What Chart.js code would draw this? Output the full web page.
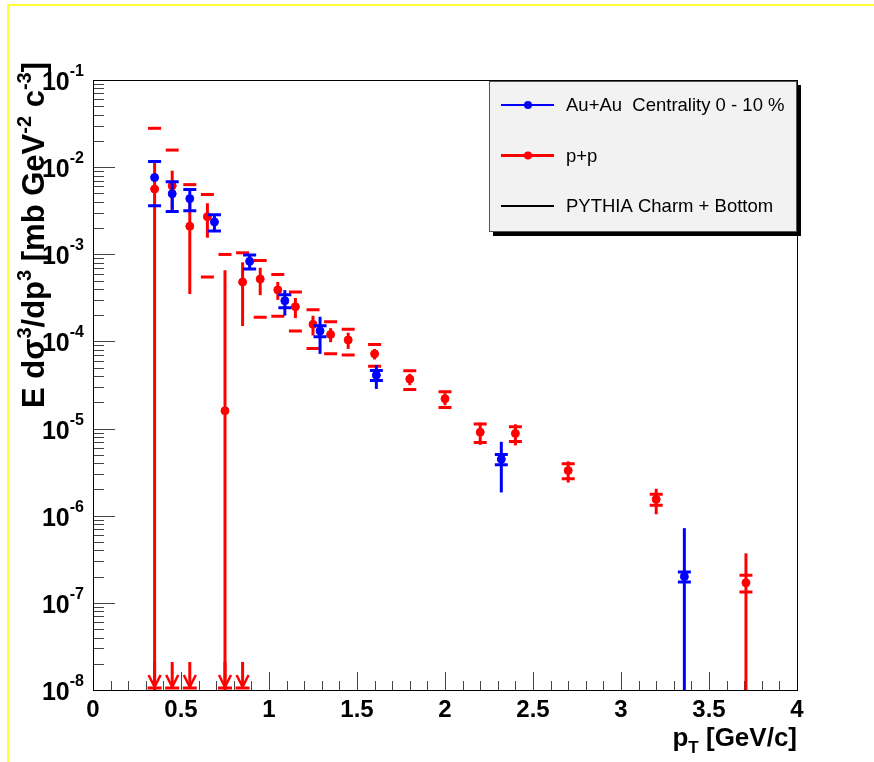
<!DOCTYPE html>
<html>
<head>
<meta charset="utf-8">
<title>Non-photonic electron spectra</title>
<script src="https://cdn.jsdelivr.net/npm/chart.js@4.4.1/dist/chart.umd.min.js"></script>
<style>
  html, body { margin: 0; padding: 0; background: #fff; }
  canvas { display: block; }
</style>
</head>
<body>
<canvas id="spectrum" width="874" height="762"></canvas>
<script>
// Au+Au, centrality 0-10 %
const auPt    = [0.35, 0.45, 0.55, 0.69, 0.89, 1.09, 1.29, 1.61, 2.32, 3.36];
const auYield = [7.6e-3, 4.95e-3, 4.35e-3, 2.35e-3, 8.3e-4, 2.93e-4, 1.32e-4, 4.1e-5, 4.45e-6, 2.0e-7];
const auStat  = [0.3e-3, 1.7e-3, 1.1e-3, 0.45e-3, 1.4e-4, 0.95e-4, 0.6e-4, 1.25e-5, 2.6e-6, 5.2e-7];
const auSyst  = [4.0e-3, 1.85e-3, 1.2e-3, 0.5e-3, 1.5e-4, 0.5e-4, 0.19e-4, 0.55e-5, 0.6e-6, 0.26e-7];

// p+p reference
const ppPt    = [0.35, 0.45, 0.55, 0.65, 0.75, 0.85, 0.95, 1.05, 1.15, 1.25, 1.35, 1.45, 1.6, 1.8, 2.0, 2.2, 2.4, 2.7, 3.2, 3.71];
const ppYield = [5.6e-3, 6.1e-3, 2.1e-3, 2.7e-3, 1.6e-5, 4.8e-4, 5.2e-4, 3.9e-4, 2.5e-4, 1.57e-4, 1.2e-4, 1.04e-4, 7.2e-5, 3.7e-5, 2.2e-5, 9.1e-6, 8.8e-6, 3.3e-6, 1.54e-6, 1.7e-7];
const ppStat  = [5.9e-3, 3.0e-3, 1.75e-3, 1.15e-3, 6.4e-4, 3.3e-4, 1.8e-4, 0.9e-4, 0.65e-4, 0.4e-4, 0.22e-4, 0.22e-4, 1.0e-5, 0.55e-5, 0.35e-5, 2.6e-6, 2.4e-6, 0.9e-6, 0.5e-6, 2.0e-7];
const ppSyst  = [2.23e-2, 9.6e-3, 4.2e-3, 2.15e-3, 9.8e-4, 5.6e-4, 3.3e-4, 1.95e-4, 1.18e-4, 0.74e-4, 0.48e-4, 0.34e-4, 0.2e-4, 0.9e-5, 0.45e-5, 2.2e-6, 1.7e-6, 0.65e-6, 0.22e-6, 0.37e-7];

// axis ticks
const xTicks = [0, 0.5, 1, 1.5, 2, 2.5, 3, 3.5, 4];
const xTickLabels = ["0", "0.5", "1", "1.5", "2", "2.5", "3", "3.5", "4"];
const yExponents = [-1, -2, -3, -4, -5, -6, -7, -8];

const BOLD = "bold {s}px 'Liberation Sans', Arial, sans-serif";
const font = s => BOLD.replace("{s}", s);

const toPoints = (xs, ys) => xs.map((x, i) => ({ x: x, y: ys[i] }));

// draws pieces [text, shift, size] one after another from x along baseline y
function drawPieces(ctx, pieces, x, y) {
  pieces.forEach(([t, shift, size]) => {
    ctx.font = font(size);
    ctx.fillText(t, x, y + shift);
    x += ctx.measureText(t).width;
  });
}
function piecesWidth(ctx, pieces) {
  return pieces.reduce((w, [t, , size]) => { ctx.font = font(size); return w + ctx.measureText(t).width; }, 0);
}

const pageFrame = {
  id: "pageFrame",
  beforeDraw(chart) {
    const ctx = chart.ctx;
    ctx.save();
    ctx.fillStyle = "#fff";
    ctx.fillRect(0, 0, chart.width, chart.height);
    ctx.strokeStyle = "#ffff33";
    ctx.lineWidth = 2;
    ctx.beginPath();
    ctx.moveTo(7, 5); ctx.lineTo(chart.width, 5);
    ctx.moveTo(8, 4); ctx.lineTo(8, chart.height);
    ctx.stroke();
    ctx.restore();
  }
};

// frame, inward ticks and tick labels
const rootAxes = {
  id: "rootAxes",
  beforeDatasetsDraw(chart) {
    const { ctx, chartArea: a, scales: { x, y } } = chart;
    ctx.save();
    ctx.strokeStyle = "#444";
    ctx.lineWidth = 1;
    ctx.beginPath();
    for (let i = 0; i <= 40; i++) {
      const px = Math.round(x.getPixelForValue(i / 10)) + 0.5;
      const len = i % 5 === 0 ? 18 : 9;
      ctx.moveTo(px, a.bottom); ctx.lineTo(px, a.bottom - len);
    }
    for (let e = -8; e < -1; e++) {
      for (let k = 1; k <= 9; k++) {
        const py = Math.round(y.getPixelForValue(k * Math.pow(10, e))) + 0.5;
        const len = k === 1 ? 22 : 11;
        ctx.moveTo(a.left, py); ctx.lineTo(a.left + len, py);
      }
    }
    ctx.stroke();
    ctx.strokeStyle = "#000";
    ctx.strokeRect(a.left + 0.5, a.top + 0.5, a.right - a.left, a.bottom - a.top);
    ctx.restore();
  },
  afterDraw(chart) {
    const { ctx, chartArea: a, scales: { x, y } } = chart;
    ctx.save();
    ctx.fillStyle = "#000";
    ctx.textBaseline = "alphabetic";
    ctx.font = font(24);
    ctx.textAlign = "center";
    xTicks.forEach((v, i) => ctx.fillText(xTickLabels[i], x.getPixelForValue(v), a.bottom + 27));
    ctx.textAlign = "left";
    yExponents.forEach(e => {
      const py = y.getPixelForValue(Math.pow(10, e));
      const pieces = [["10", 0, 25], [String(e), -14, 16]];
      drawPieces(ctx, pieces, 84 - piecesWidth(ctx, pieces), py + 10);
    });
    // x title
    const xt = [["p", 0, 26], ["T", 7, 17], [" [GeV/c]", 0, 26]];
    drawPieces(ctx, xt, a.right - piecesWidth(ctx, xt), a.bottom + 56);
    // y title, rotated, ending near the top of the axis
    const yt = [["E d\u03c3", 0, 31], ["3", -13, 20], ["/dp", 0, 31], ["3", -13, 20],
                [" [mb GeV", 0, 31], ["-2", -13, 20], [" c", 0, 31], ["-3", -13, 20], ["]", 0, 31]];
    ctx.translate(44, 62);
    ctx.rotate(-Math.PI / 2);
    drawPieces(ctx, yt, -piecesWidth(ctx, yt), 0);
    ctx.restore();
  }
};

// vertical stat lines and horizontal syst dashes, arrows where syst reaches zero
const errorBars = {
  id: "errorBars",
  beforeDatasetDraw(chart, args) {
    const ds = chart.data.datasets[args.index];
    if (!ds.stat) return;
    const { ctx, chartArea: a, scales: { x, y } } = chart;
    const py = v => (v > 0 ? Math.min(y.getPixelForValue(v), a.bottom) : a.bottom);
    ctx.save();
    ctx.strokeStyle = ds.borderColor;
    ctx.lineCap = "butt";
    ds.data.forEach((p, i) => {
      const px = x.getPixelForValue(p.x);
      ctx.lineWidth = 3;
      ctx.beginPath();
      ctx.moveTo(px, py(p.y + ds.stat[i]));
      ctx.lineTo(px, py(p.y - ds.stat[i]));
      ctx.stroke();
      const up = py(p.y + ds.syst[i]);
      ctx.beginPath();
      ctx.moveTo(px - 6.5, up); ctx.lineTo(px + 6.5, up);
      if (p.y - ds.syst[i] > 0) {
        const lo = py(p.y - ds.syst[i]);
        ctx.moveTo(px - 6.5, lo); ctx.lineTo(px + 6.5, lo);
        ctx.stroke();
      } else {
        ctx.stroke();
        const b = a.bottom - 2;
        ctx.lineWidth = 3;
        ctx.beginPath();
        ctx.moveTo(px, b - 26); ctx.lineTo(px, b);
        ctx.moveTo(px - 7, b); ctx.lineTo(px + 7, b);
        ctx.stroke();
        ctx.lineWidth = 2.5;
        ctx.beginPath();
        ctx.moveTo(px - 6, b - 13); ctx.lineTo(px, b - 1); ctx.lineTo(px + 6, b - 13);
        ctx.stroke();
      }
    });
    ctx.restore();
  }
};

const boxLegend = {
  id: "boxLegend",
  afterDraw(chart) {
    const ctx = chart.ctx;
    const bx = 489, by = 81, bw = 308, bh = 151;
    ctx.save();
    ctx.fillStyle = "#000";
    ctx.fillRect(bx + 4, by + 4, bw, bh);
    ctx.fillStyle = "#f2f2f2";
    ctx.fillRect(bx, by, bw, bh);
    ctx.strokeStyle = "#555";
    ctx.lineWidth = 1;
    ctx.strokeRect(bx + 0.5, by + 0.5, bw - 1, bh - 1);
    chart.data.datasets.forEach((ds, i) => {
      const ly = 105 + i * 50.5;
      ctx.strokeStyle = ds.borderColor;
      ctx.lineWidth = ds.legendWidth;
      ctx.beginPath();
      ctx.moveTo(501, ly); ctx.lineTo(554, ly);
      ctx.stroke();
      if (ds.data.length) {
        ctx.fillStyle = ds.backgroundColor;
        ctx.beginPath();
        ctx.arc(528, ly, 4, 0, Math.PI * 2);
        ctx.fill();
      }
      ctx.fillStyle = "#000";
      ctx.font = "18.5px 'Liberation Sans', Arial, sans-serif";
      ctx.textBaseline = "middle";
      ctx.fillText(ds.label, 566, ly + 1);
    });
    ctx.restore();
  }
};

new Chart(document.getElementById("spectrum"), {
  type: "scatter",
  data: {
    datasets: [
      {
        label: "Au+Au  Centrality 0 - 10 %",
        data: toPoints(auPt, auYield),
        stat: auStat,
        syst: auSyst,
        borderColor: "#0000ff",
        backgroundColor: "#0000ff",
        legendWidth: 2
      },
      {
        label: "p+p",
        data: toPoints(ppPt, ppYield),
        stat: ppStat,
        syst: ppSyst,
        borderColor: "#ff0000",
        backgroundColor: "#ff0000",
        legendWidth: 3
      },
      {
        label: "PYTHIA Charm + Bottom",
        data: [],
        borderColor: "#000",
        backgroundColor: "#000",
        legendWidth: 2
      }
    ]
  },
  options: {
    responsive: false,
    animation: false,
    devicePixelRatio: 1,
    layout: { padding: { left: 93, top: 80, right: 77, bottom: 72 } },
    elements: { point: { radius: 4, borderWidth: 1, pointStyle: "circle" } },
    plugins: { legend: { display: false }, tooltip: { enabled: false } },
    scales: {
      x: { type: "linear", min: 0, max: 4, display: false },
      y: { type: "logarithmic", min: 1e-8, max: 1e-1, display: false }
    }
  },
  plugins: [pageFrame, rootAxes, errorBars, boxLegend]
});
</script>
</body>
</html>
